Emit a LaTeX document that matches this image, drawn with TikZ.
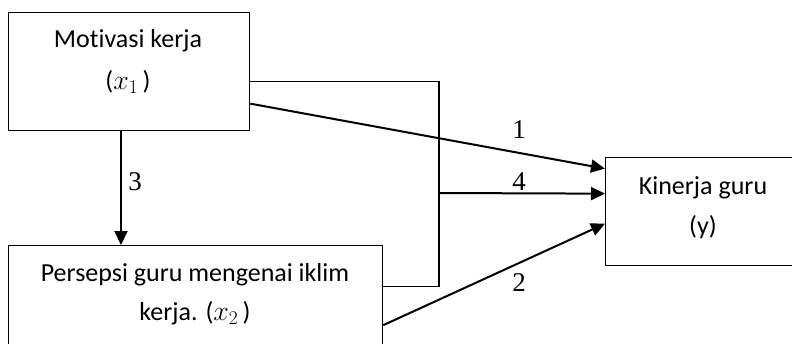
\documentclass[tikz,border=0pt]{standalone}
\usepackage{fontspec}
\setmainfont{Carlito}[Ligatures={NoCommon}]
\newfontfamily\numfont{Liberation Serif}
\usetikzlibrary{arrows.meta,calc}
\newcommand{\mvar}[1]{\scalebox{1.12}{$#1$}}
\begin{document}
\begin{tikzpicture}[x=1pt,y=-1pt,
  boxstyle/.style={draw,line width=1.3pt,inner sep=0pt,anchor=north west},
  txt/.style={font=\fontsize{26}{31}\selectfont,inner sep=0pt},
  num/.style={font=\numfont\fontsize{27}{32}\selectfont,inner sep=0pt},
  arr/.style={line width=2pt,-{Triangle[length=14pt,width=13pt]}},
  thin/.style={line width=1.3pt}]
\clip (0,0) rectangle (792,343);
\fill[white] (0,0) rectangle (792,343);
\node[boxstyle,minimum width=241pt,minimum height=118pt] (b1) at (8,12) {};
\node[boxstyle,minimum width=374pt,minimum height=105pt] (b2) at (8,245) {};
\node[boxstyle,minimum width=200pt,minimum height=108pt] (b3) at (605,157) {};
\node[txt] (t1a) at (128,41) {Motivasi kerja};
\node[txt] (t1b) at (128,82) {(\mvar{x_1}\,)};
\node[txt] (t2a) at (195,275) {Persepsi guru mengenai iklim};
\node[txt] (t2b) at (195,313) {kerja. (\mvar{x_2}\,)};
\node[txt] (t3a) at (703,188) {Kinerja guru};
\node[txt] (t3b) at (703,227) {(y)};
\coordinate (j) at (439,193);
\draw[thin] ([yshift=-10pt]b1.east) -| (j) |- ([yshift=12pt]b2.east);
\draw[arr] (j) -- ([yshift=18pt]b3.west);
\draw[arr] ([yshift=-32pt]b1.east) -- ([yshift=43pt]b3.west);
\draw[arr] ([yshift=-27pt]b2.east) -- ([yshift=-12pt]b3.west);
\draw[arr] (b1.south -| 121,0) -- (b2.north -| 121,0);
\node[num] (n1) at (519,130) {1};
\node[num] (n4) at (519,182) {4};
\node[num] (n2) at (519,283) {2};
\node[num] (n3) at (135,182) {3};
\end{tikzpicture}
\end{document}
